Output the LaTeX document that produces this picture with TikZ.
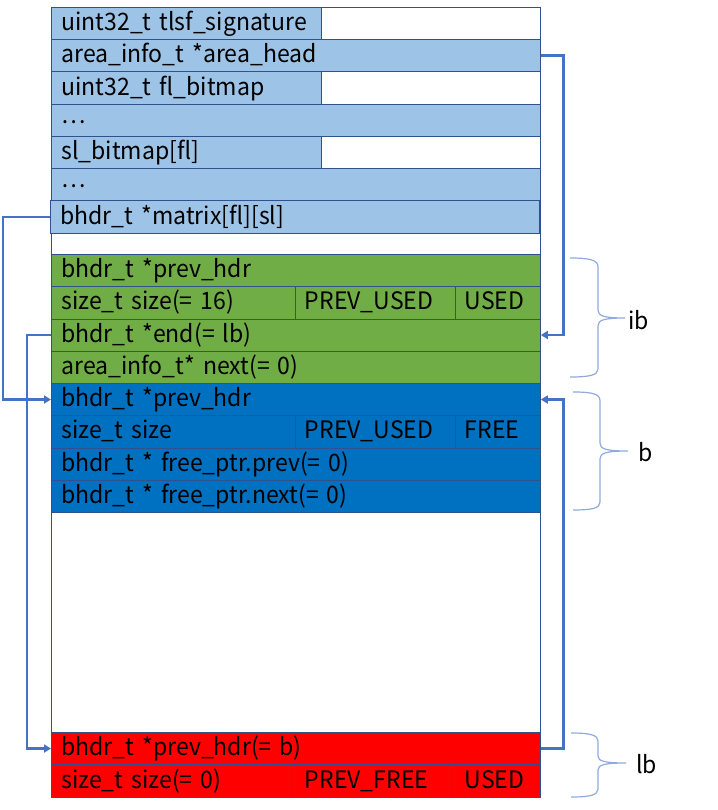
\documentclass[tikz,border=0pt]{standalone}
\usepackage{fontspec}
\setmainfont{Noto Sans CJK JP}[FakeStretch=0.96]
\usetikzlibrary{arrows.meta}
\definecolor{lblue}{HTML}{9DC3E6}
\definecolor{grn}{HTML}{70AD47}
\definecolor{blu}{HTML}{0070C0}
\definecolor{rd}{HTML}{FF0000}
\definecolor{bd}{HTML}{2F528F}
\definecolor{arr}{HTML}{4472C4}
\definecolor{brc}{HTML}{8FAADC}
\tikzset{
  cellbase/.style={draw=bd, line width=0.8pt, anchor=north west, minimum height=32.25pt,
    inner ysep=0pt, inner xsep=10pt, text height=20pt, text depth=6pt, align=left,
    font=\fontsize{24pt}{28pt}\selectfont},
  rowfull/.style={cellbase, text width=469pt},
  rowhalf/.style={cellbase, text width=250pt},
  cella/.style={cellbase, text width=223.5pt},
  cellb/.style={cellbase, text width=140pt},
  cellc/.style={cellbase, text width=65.5pt},
  ptr/.style={draw=arr, line width=2.8pt, -{Triangle[length=7pt,width=8pt]}},
  brace/.style={draw=brc, line width=1.2pt},
  lab/.style={anchor=west, inner sep=0pt, font=\fontsize{24pt}{28pt}\selectfont}
}
\begin{document}
\begin{tikzpicture}[x=1pt,y=-1pt]
\useasboundingbox (0,0) rectangle (717,810);
\node[draw=bd, line width=0.8pt, fill=white, anchor=north west, minimum width=489pt, minimum height=790pt, inner sep=0pt] (outer) at (51,7) {};
% control block
\node[rowhalf, fill=lblue] (r1) at (51,7) {\mbox{uint32\_t tlsf\_signature}};
\node[rowfull, fill=lblue] (r2) at (51,39.25) {\mbox{area\_info\_t *area\_head}};
\node[rowhalf, fill=lblue] (r3) at (51,71.5) {\mbox{uint32\_t fl\_bitmap}};
\node[rowfull, fill=lblue] (r4) at (51,103.75) {\raisebox{4pt}{…}};
\node[rowhalf, fill=lblue] (r5) at (51,136) {sl\_bitmap[fl]};
\node[rowfull, fill=lblue] (r6) at (51,168.25) {\raisebox{4pt}{…}};
\node[rowfull, fill=lblue] (r7) at (50,200.5) {\mbox{bhdr\_t *matrix[fl][sl]}};
% ib block
\node[rowfull, fill=grn] (g1) at (51,254) {\mbox{bhdr\_t *prev\_hdr}};
\node[cella, fill=grn] (g2a) at (51,286.25) {\mbox{size\_t size(= 16)}};
\node[cellb, fill=grn] (g2b) at (294.5,286.25) {PREV\_USED};
\node[cellc, fill=grn] (g2c) at (454.5,286.25) {USED};
\node[rowfull, fill=grn] (g3) at (51,318.5) {\mbox{bhdr\_t *end(= lb)}};
\node[rowfull, fill=grn] (g4) at (51,350.75) {\mbox{area\_info\_t* next(= 0)}};
% b block
\node[rowfull, fill=blu] (b1) at (51,383) {\mbox{bhdr\_t *prev\_hdr}};
\node[cella, fill=blu] (b2a) at (51,415.25) {\mbox{size\_t size}};
\node[cellb, fill=blu] (b2b) at (294.5,415.25) {PREV\_USED};
\node[cellc, fill=blu] (b2c) at (454.5,415.25) {FREE};
\node[rowfull, fill=blu] (b3) at (51,447.5) {\mbox{bhdr\_t * free\_ptr.prev(= 0)}};
\node[rowfull, fill=blu] (b4) at (51,479.75) {\mbox{bhdr\_t * free\_ptr.next(= 0)}};
% lb block
\node[rowfull, fill=rd] (l1) at (51,732) {\mbox{bhdr\_t *prev\_hdr(= b)}};
\node[cella, fill=rd] (l2a) at (51,764.5) {\mbox{size\_t size(= 0)}};
\node[cellb, fill=rd] (l2b) at (294.5,764.5) {PREV\_FREE};
\node[cellc, fill=rd] (l2c) at (454.5,764.5) {USED};
% pointers
\draw[ptr] (r2.east) -- ++(23,0) |- (g3.east);
\draw[ptr] (r7.west) -- ++(-47,0) |- (b1.west);
\draw[ptr] (g3.west) -- ++(-24,0) |- (l1.west);
\draw[ptr] (l1.east) -- ++(23,0) |- (b1.east);
% braces
\draw[brace] (570,258) .. controls (590,258) and (598,260) .. (598,267) -- (598,310)
  .. controls (598,316) and (604,318) .. (625,318)
  .. controls (604,318) and (598,320) .. (598,326) -- (598,369)
  .. controls (598,375) and (590,377) .. (570,377);
\node[lab] (ib) at (628,320) {ib};
\draw[brace] (573,392) .. controls (593,392) and (600,394) .. (600,401) -- (600,443)
  .. controls (600,449) and (606,451) .. (628,451)
  .. controls (606,451) and (600,453) .. (600,459) -- (600,502)
  .. controls (600,508) and (593,510) .. (573,510);
\node[lab] (bl) at (638,452) {b};
\draw[brace] (571,733) .. controls (590,733) and (598,735) .. (598,741) -- (598,756)
  .. controls (598,761) and (604,763) .. (626,763)
  .. controls (604,763) and (598,765) .. (598,770) -- (598,789)
  .. controls (598,795) and (590,797) .. (571,797);
\node[lab] (lbl) at (636,764) {lb};
\end{tikzpicture}
\end{document}
